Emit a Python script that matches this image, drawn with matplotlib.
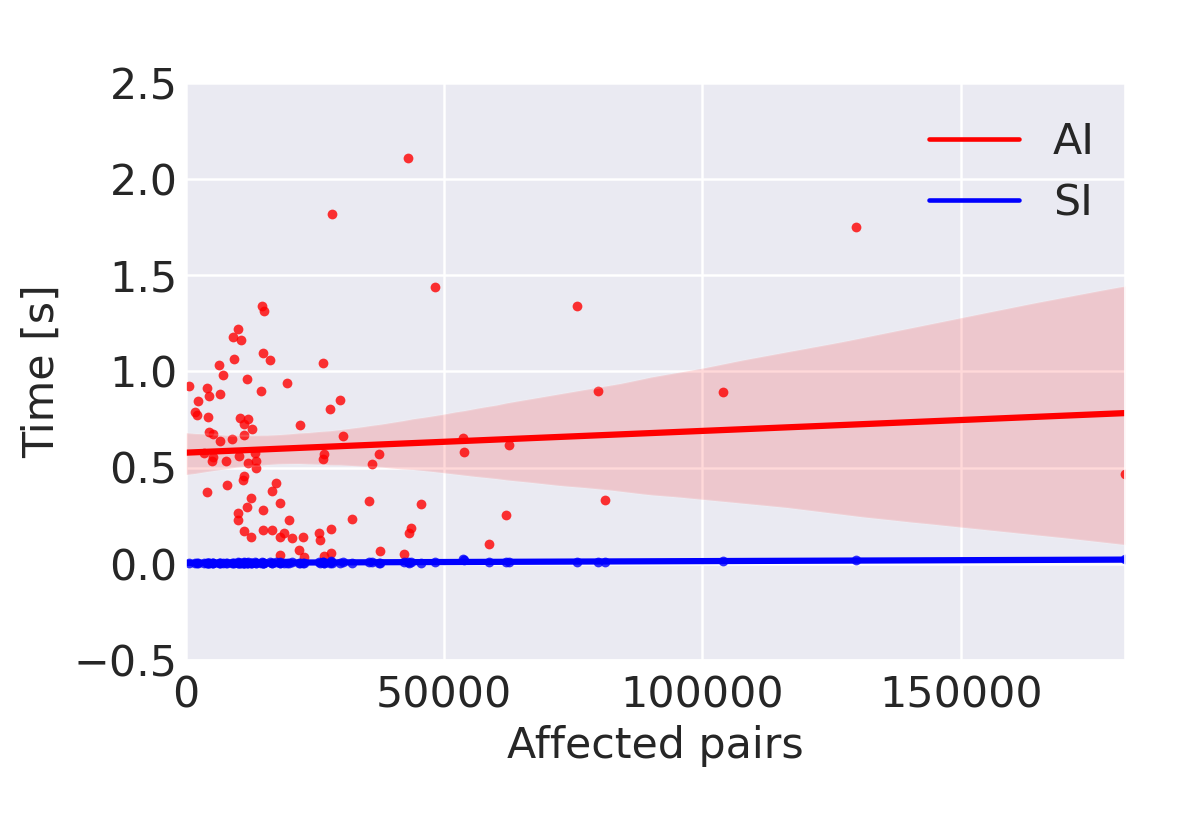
import numpy as np
import matplotlib
matplotlib.use("Agg")
import matplotlib.pyplot as plt
from matplotlib.lines import Line2D
import seaborn as sns

# affected pairs (shared by both methods)
pairs = [640, 2267, 1802, 2074, 4070, 4399, 4322, 4516, 5291, 3488,
         5097, 5291, 4012, 6337, 7229, 6531, 6647, 7694, 7946, 8857,
         9167, 10019, 10601, 9360, 10523, 11957, 11298, 11182, 10329, 11298,
         10988, 10019, 10136, 11298, 11764, 12791, 12074, 13430, 13508, 13566,
         12597, 11822, 12597, 14787, 15174, 14981, 16337, 14535, 14981, 14864,
         16725, 17442, 16609, 18217, 18934, 18217, 18217, 19516, 19903, 20543,
         22151, 22674, 21957, 22868, 25775, 25969, 26609, 26802, 26492, 26802,
         27907, 28043, 28043, 28236, 29845, 30368, 32171, 35407, 36105, 37403,
         37597, 42190, 42965, 43217, 43547, 45543, 48256, 53624, 53876, 58663,
         61957, 62597, 75775, 79845, 81202, 104012, 129787, 181841]

# time [s] for AI
time_ai = [0.922, 0.845, 0.788, 0.771, 0.915, 0.870, 0.764, 0.684, 0.676, 0.573,
           0.536, 0.556, 0.371, 1.031, 0.979, 0.880, 0.637, 0.536, 0.408, 0.649,
           1.179, 1.217, 1.163, 1.064, 0.755, 0.750, 0.724, 0.670, 0.559, 0.458,
           0.434, 0.262, 0.228, 0.172, 0.962, 0.699, 0.522, 0.577, 0.535, 0.495,
           0.339, 0.295, 0.141, 1.340, 1.313, 1.097, 1.061, 0.897, 0.278, 0.177,
           0.173, 0.420, 0.380, 0.314, 0.158, 0.139, 0.043, 0.941, 0.229, 0.132,
           0.719, 0.137, 0.073, 0.035, 0.158, 0.125, 1.045, 0.568, 0.542, 0.038,
           0.802, 0.181, 0.056, 1.818, 0.849, 0.663, 0.234, 0.324, 0.519, 0.571,
           0.064, 0.052, 2.106, 0.160, 0.186, 0.3125, 1.439, 0.655, 0.580, 0.103,
           0.252, 0.615, 1.339, 0.896, 0.330, 0.892, 1.748, 0.464]

# time [s] for SI
time_si = [0.004, 0.005, 0.003, 0.004, 0.006, 0.005, 0.004, 0.006, 0.005, 0.004,
           0.005, 0.006, 0.003, 0.005, 0.006, 0.004, 0.005, 0.006, 0.004, 0.005,
           0.006, 0.007, 0.005, 0.004, 0.006, 0.007, 0.005, 0.006, 0.004, 0.005,
           0.006, 0.004, 0.005, 0.007, 0.005, 0.006, 0.004, 0.007, 0.005, 0.006,
           0.004, 0.005, 0.006, 0.008, 0.006, 0.005, 0.007, 0.006, 0.004, 0.005,
           0.006, 0.008, 0.005, 0.006, 0.004, 0.007, 0.005, 0.006, 0.005, 0.007,
           0.006, 0.005, 0.004, 0.006, 0.007, 0.005, 0.008, 0.006, 0.007, 0.005,
           0.006, 0.012, 0.008, 0.006, 0.005, 0.007, 0.006, 0.008, 0.007, 0.006,
           0.006, 0.007, 0.008, 0.006, 0.007, 0.006, 0.008, 0.024, 0.018, 0.008,
           0.007, 0.008, 0.009, 0.010, 0.009, 0.012, 0.017, 0.024]

sns.set_style("darkgrid")
plt.rcParams['font.family'] = ['DejaVu Sans']

fig = plt.figure(figsize=(8, 5.5), dpi=150)
ax = fig.add_axes([0.155, 0.2, 0.7825, 0.7])

sns.regplot(x=np.array(pairs), y=np.array(time_ai), ax=ax, color="red",
            scatter_kws={"s": 22, "alpha": 0.8, "linewidths": 0},
            line_kws={"lw": 3}, seed=0, truncate=False)
sns.regplot(x=np.array(pairs), y=np.array(time_si), ax=ax, color="blue",
            scatter_kws={"s": 22, "alpha": 0.8, "linewidths": 0},
            line_kws={"lw": 3}, seed=0, truncate=False)

ax.set_xlim(0, max(pairs))
ax.set_ylim(-0.5, 2.5)
ax.set_xticks([0, 50000, 100000, 150000])
ax.set_yticks([-0.5, 0.0, 0.5, 1.0, 1.5, 2.0, 2.5])
ax.set_yticklabels(["\u22120.5", "0.0", "0.5", "1.0", "1.5", "2.0", "2.5"])
ax.tick_params(labelsize=20.5, length=0, colors="#262626")
ax.tick_params(axis="x", pad=7)
ax.tick_params(axis="y", pad=4)
ax.set_xlabel("Affected pairs", fontsize=20.5, color="#262626", labelpad=4)
ax.set_ylabel("Time [s]", fontsize=20.5, color="#262626", labelpad=5)
ax.grid(True, color="white", lw=1.2)

handles = [Line2D([], [], color="red", lw=2.2, label="AI"),
           Line2D([], [], color="blue", lw=2.2, label="SI")]
ax.legend(handles=handles, loc="upper right", bbox_to_anchor=(1.0, 0.985),
          fontsize=20.5, frameon=False, handlelength=2.1, labelspacing=0.45,
          borderaxespad=0.3)

fig.savefig("out.png", dpi=150)
